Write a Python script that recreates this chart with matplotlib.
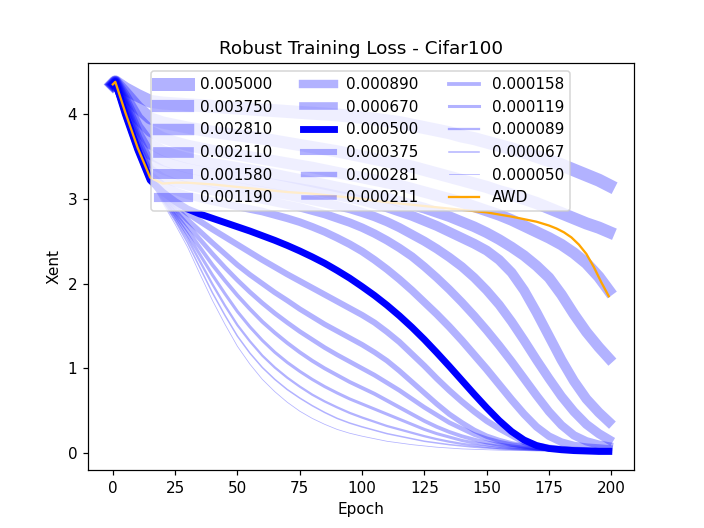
import matplotlib
matplotlib.use("Agg")
import matplotlib.pyplot as plt

epochs = [0, 1, 5, 10, 15, 20, 25, 30, 35, 40, 45, 50, 55, 60, 65, 70, 75, 80, 85, 90, 95, 100,
          105, 110, 115, 120, 125, 130, 135, 140, 145, 150, 155, 160, 165, 170, 175, 180, 185,
          190, 195, 199]

weight_decays = ["0.005000", "0.003750", "0.002810", "0.002110", "0.001580", "0.001190",
                 "0.000890", "0.000670", "0.000500", "0.000375", "0.000281", "0.000211",
                 "0.000158", "0.000119", "0.000089", "0.000067", "0.000050"]

xent_005000 = [4.35, 4.38, 4.30, 4.22, 4.15, 4.13, 4.12, 4.11, 4.10, 4.09, 4.08, 4.07, 4.06, 4.05, 4.04,
               4.03, 4.02, 4.01, 4.00, 3.99, 3.975, 3.96,
               3.94, 3.92, 3.90, 3.87, 3.84, 3.81, 3.78, 3.74, 3.71, 3.67, 3.63, 3.59, 3.55, 3.50, 3.45,
               3.40, 3.34, 3.28, 3.22, 3.16]
xent_003750 = [4.35, 4.38, 4.25, 4.08, 3.95, 3.90, 3.87, 3.84, 3.815, 3.79, 3.77, 3.75, 3.73, 3.71, 3.685,
               3.66, 3.635, 3.61, 3.585, 3.56, 3.53, 3.50,
               3.47, 3.44, 3.41, 3.38, 3.34, 3.30, 3.26, 3.22, 3.18, 3.14, 3.09, 3.05, 3.00, 2.95, 2.89,
               2.83, 2.77, 2.71, 2.66, 2.61]
xent_002810 = [4.35, 4.38, 4.20, 3.95, 3.80, 3.72, 3.67, 3.63, 3.60, 3.57, 3.545, 3.52, 3.495, 3.47, 3.445,
               3.42, 3.395, 3.37, 3.34, 3.31, 3.28, 3.25,
               3.22, 3.19, 3.16, 3.12, 3.08, 3.04, 3.00, 2.96, 2.91, 2.86, 2.81, 2.75, 2.68, 2.61, 2.54,
               2.46, 2.36, 2.24, 2.08, 1.92]
xent_002110 = [4.35, 4.38, 4.16, 3.85, 3.65, 3.57, 3.52, 3.48, 3.45, 3.42, 3.395, 3.37, 3.345, 3.32, 3.29,
               3.26, 3.23, 3.20, 3.17, 3.14, 3.11, 3.08,
               3.05, 3.01, 2.97, 2.93, 2.89, 2.84, 2.79, 2.73, 2.67, 2.60, 2.52, 2.43, 2.33, 2.21, 2.07,
               1.87, 1.64, 1.43, 1.25, 1.12]
xent_001580 = [4.35, 4.38, 4.13, 3.78, 3.52, 3.45, 3.40, 3.36, 3.33, 3.30, 3.275, 3.25, 3.225, 3.20, 3.175,
               3.15, 3.125, 3.10, 3.07, 3.04, 3.01, 2.98,
               2.94, 2.90, 2.85, 2.80, 2.74, 2.68, 2.61, 2.54, 2.47, 2.39, 2.28, 2.13, 1.92, 1.66, 1.38,
               1.10, 0.85, 0.64, 0.48, 0.37]
xent_001190 = [4.35, 4.38, 4.10, 3.72, 3.42, 3.34, 3.29, 3.25, 3.22, 3.19, 3.165, 3.14, 3.115, 3.09, 3.065,
               3.04, 3.01, 2.98, 2.95, 2.92, 2.885, 2.84,
               2.79, 2.73, 2.66, 2.58, 2.50, 2.41, 2.31, 2.20, 2.07, 1.92, 1.75, 1.55, 1.33, 1.10, 0.88,
               0.67, 0.49, 0.34, 0.23, 0.16]
xent_000890 = [4.35, 4.38, 4.08, 3.67, 3.35, 3.25, 3.19, 3.15, 3.12, 3.09, 3.065, 3.04, 3.015, 2.99, 2.96,
               2.93, 2.90, 2.86, 2.82, 2.77, 2.72, 2.66,
               2.59, 2.51, 2.42, 2.32, 2.20, 2.07, 1.93, 1.78, 1.62, 1.45, 1.27, 1.08, 0.88, 0.68, 0.49,
               0.33, 0.21, 0.14, 0.10, 0.08]
xent_000670 = [4.35, 4.38, 4.05, 3.63, 3.28, 3.16, 3.09, 3.04, 3.005, 2.97, 2.94, 2.91, 2.88, 2.85, 2.81,
               2.77, 2.725, 2.67, 2.61, 2.54, 2.465, 2.38,
               2.28, 2.17, 2.05, 1.92, 1.78, 1.64, 1.49, 1.33, 1.16, 0.99, 0.81, 0.63, 0.46, 0.31, 0.20,
               0.13, 0.09, 0.07, 0.06, 0.05]
xent_000500 = [4.35, 4.38, 4.00, 3.58, 3.22, 3.08, 2.97, 2.88, 2.82, 2.77, 2.72, 2.67, 2.62, 2.565, 2.51,
               2.45, 2.385, 2.315, 2.24, 2.155, 2.065, 1.965,
               1.86, 1.745, 1.62, 1.485, 1.34, 1.185, 1.025, 0.86, 0.695, 0.535, 0.385, 0.255, 0.155, 0.09,
               0.055, 0.04, 0.03, 0.025, 0.02, 0.02]
xent_000375 = [4.35, 4.38, 4.00, 3.58, 3.22, 3.06, 2.94, 2.83, 2.735, 2.64, 2.55, 2.46, 2.37, 2.28, 2.195,
               2.11, 2.03, 1.95, 1.87, 1.79, 1.71, 1.63,
               1.54, 1.43, 1.31, 1.17, 1.03, 0.88, 0.74, 0.61, 0.49, 0.38, 0.29, 0.21, 0.13, 0.09, 0.065,
               0.05, 0.04, 0.035, 0.03, 0.03]
xent_000281 = [4.35, 4.38, 4.00, 3.58, 3.22, 3.05, 2.90, 2.75, 2.615, 2.48, 2.35, 2.22, 2.105, 2.00, 1.895,
               1.80, 1.70, 1.61, 1.52, 1.44, 1.36, 1.28,
               1.19, 1.09, 0.97, 0.84, 0.71, 0.58, 0.46, 0.36, 0.27, 0.20, 0.15, 0.11, 0.085, 0.065, 0.055,
               0.045, 0.04, 0.035, 0.03, 0.03]
xent_000211 = [4.35, 4.38, 4.00, 3.58, 3.22, 3.03, 2.86, 2.69, 2.52, 2.35, 2.19, 2.04, 1.90, 1.77, 1.65,
               1.54, 1.435, 1.34, 1.245, 1.16, 1.08, 1.00,
               0.92, 0.83, 0.74, 0.64, 0.54, 0.45, 0.36, 0.29, 0.22, 0.17, 0.13, 0.10, 0.08, 0.065, 0.055,
               0.045, 0.04, 0.035, 0.03, 0.03]
xent_000158 = [4.35, 4.38, 4.00, 3.58, 3.22, 3.02, 2.83, 2.63, 2.425, 2.22, 2.035, 1.86, 1.70, 1.55, 1.42,
               1.30, 1.19, 1.09, 1.00, 0.92, 0.84, 0.77,
               0.70, 0.62, 0.54, 0.46, 0.38, 0.31, 0.25, 0.20, 0.16, 0.125, 0.10, 0.08, 0.065, 0.055, 0.045,
               0.04, 0.035, 0.03, 0.03, 0.025]
xent_000119 = [4.35, 4.38, 4.00, 3.58, 3.22, 3.00, 2.80, 2.58, 2.34, 2.10, 1.88, 1.67, 1.49, 1.33, 1.19,
               1.07, 0.965, 0.87, 0.785, 0.71, 0.64, 0.58,
               0.52, 0.46, 0.40, 0.34, 0.28, 0.23, 0.19, 0.15, 0.12, 0.10, 0.08, 0.065, 0.055, 0.045, 0.04,
               0.035, 0.03, 0.03, 0.025, 0.025]
xent_000089 = [4.35, 4.38, 4.00, 3.58, 3.22, 2.99, 2.77, 2.53, 2.26, 1.99, 1.74, 1.51, 1.32, 1.15, 1.01,
               0.89, 0.785, 0.69, 0.61, 0.54, 0.475, 0.42,
               0.37, 0.32, 0.28, 0.24, 0.20, 0.165, 0.135, 0.11, 0.09, 0.075, 0.06, 0.05, 0.045, 0.04, 0.035,
               0.03, 0.03, 0.025, 0.025, 0.02]
xent_000067 = [4.35, 4.38, 4.00, 3.58, 3.22, 2.97, 2.74, 2.48, 2.185, 1.89, 1.625, 1.38, 1.18, 1.01, 0.87,
               0.75, 0.65, 0.56, 0.48, 0.41, 0.355, 0.31,
               0.27, 0.23, 0.20, 0.17, 0.14, 0.12, 0.10, 0.085, 0.07, 0.06, 0.05, 0.045, 0.04, 0.035, 0.03,
               0.03, 0.025, 0.025, 0.02, 0.02]
xent_000050 = [4.35, 4.38, 4.00, 3.58, 3.22, 2.95, 2.70, 2.43, 2.11, 1.80, 1.52, 1.26, 1.05, 0.87, 0.725,
               0.60, 0.495, 0.41, 0.34, 0.28, 0.235, 0.20,
               0.17, 0.14, 0.12, 0.10, 0.085, 0.07, 0.06, 0.05, 0.045, 0.04, 0.035, 0.03, 0.03, 0.025, 0.025,
               0.02, 0.02, 0.02, 0.02, 0.02]

awd_epochs = [0, 1, 5, 10, 15, 20, 25, 30, 40, 50, 60, 70, 80, 90, 100, 110, 120, 130, 140, 150,
              160, 165, 170, 175, 178, 181, 184, 187, 190, 193, 196, 199]
xent_awd = [4.35, 4.38, 4.02, 3.60, 3.25, 3.18, 3.19, 3.19, 3.17, 3.14, 3.11, 3.08, 3.06, 3.03, 3.00,
            2.96, 2.93, 2.90, 2.87, 2.84, 2.79, 2.76, 2.73, 2.685, 2.65, 2.605, 2.545, 2.46, 2.35,
            2.195, 2.015, 1.85]

curves = [xent_005000, xent_003750, xent_002810, xent_002110, xent_001580, xent_001190,
          xent_000890, xent_000670, xent_000500, xent_000375, xent_000281, xent_000211,
          xent_000158, xent_000119, xent_000089, xent_000067, xent_000050]

fig = plt.figure(figsize=(6.4, 4.8), dpi=110)
n = len(curves)
for i, (wd, losses) in enumerate(zip(weight_decays, curves)):
    # the baseline run is drawn solid, the rest faded
    alpha = 1.0 if wd == "0.000500" else 0.3
    plt.plot(epochs, losses, color="b", alpha=alpha, linewidth=(n - i) / 2, label=wd)
plt.plot(awd_epochs, xent_awd, color="orange", label="AWD")

plt.title("Robust Training Loss - Cifar100")
plt.xlabel("Epoch")
plt.ylabel("Xent")
plt.legend(loc="upper center", ncol=3)
plt.savefig("out.png")
